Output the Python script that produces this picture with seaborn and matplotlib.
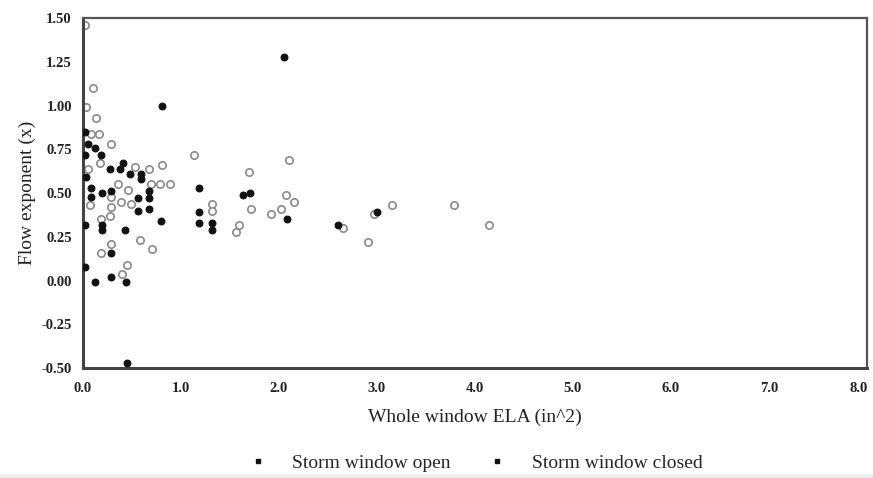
import matplotlib
matplotlib.use("Agg")
import matplotlib.pyplot as plt
import matplotlib.transforms as mtransforms
from matplotlib.lines import Line2D
from matplotlib.patches import Rectangle
import seaborn as sns
import pandas as pd

# ---- data ----
open_x = [2.05, 0.81, 0.02, 0.05, 0.12, 0.18, 0.02, 0.28, 0.38, 0.41, 0.48, 0.59, 0.59,
          0.03, 0.08, 0.08, 0.19, 0.29, 0.56, 0.67, 0.67, 0.67, 0.56, 0.02, 0.19, 0.19,
          0.43, 0.80, 1.18, 1.18, 1.18, 1.32, 1.32, 1.63, 1.70, 2.08, 0.02, 0.12, 0.29,
          0.44, 0.45, 0.29, 2.60, 3.00]
open_y = [1.28, 1.00, 0.85, 0.78, 0.76, 0.72, 0.72, 0.64, 0.64, 0.67, 0.61, 0.61, 0.58,
          0.59, 0.53, 0.48, 0.50, 0.51, 0.47, 0.51, 0.47, 0.41, 0.40, 0.32, 0.32, 0.29,
          0.29, 0.34, 0.53, 0.39, 0.33, 0.33, 0.29, 0.49, 0.50, 0.35, 0.08, -0.01, 0.02,
          -0.01, -0.47, 0.16, 0.32, 0.39]

closed_x = [0.02, 0.10, 0.03, 0.13, 0.08, 0.16, 0.29, 0.05, 0.17, 0.53, 0.67, 0.81,
            0.36, 0.46, 0.69, 0.79, 0.89, 0.07, 0.29, 0.39, 0.49, 0.29, 0.18, 0.28,
            0.58, 0.70, 0.29, 0.18, 0.40, 0.45, 1.13, 2.10, 2.07, 2.15, 1.92, 2.02,
            1.69, 1.71, 1.59, 1.56, 1.32, 1.32, 2.65, 2.91, 2.97, 3.15, 3.79, 4.14]
closed_y = [1.46, 1.10, 0.99, 0.93, 0.84, 0.84, 0.78, 0.64, 0.67, 0.65, 0.64, 0.66,
            0.55, 0.52, 0.55, 0.55, 0.55, 0.43, 0.48, 0.45, 0.44, 0.42, 0.35, 0.37,
            0.23, 0.18, 0.21, 0.16, 0.04, 0.09, 0.72, 0.69, 0.49, 0.45, 0.38, 0.41,
            0.62, 0.41, 0.32, 0.28, 0.44, 0.40, 0.30, 0.22, 0.38, 0.43, 0.43, 0.32]

series_labels = ["Storm window open", "Storm window closed"]
x_ticks = [0.0, 1.0, 2.0, 3.0, 4.0, 5.0, 6.0, 7.0, 8.0]
y_ticks = [-0.50, -0.25, 0.00, 0.25, 0.50, 0.75, 1.00, 1.25, 1.50]
x_label = "Whole window ELA (in^2)"
y_label = "Flow exponent (x)"

df_open = pd.DataFrame({"ela": open_x, "flow": open_y})
df_closed = pd.DataFrame({"ela": closed_x, "flow": closed_y})

sns.set_theme(style="white")
plt.rcParams["font.family"] = ["Liberation Serif", "DejaVu Serif"]

fig = plt.figure(figsize=(8.73, 4.78), dpi=100)
ax = fig.add_axes([0.095, 0.230, 0.898, 0.732])

sns.scatterplot(data=df_closed, x="ela", y="flow", ax=ax, marker="o", s=28,
                facecolor="white", edgecolor="#8a8a8a", linewidth=1.2, zorder=2)
sns.scatterplot(data=df_open, x="ela", y="flow", ax=ax, marker="o", s=24,
                color="#111111", edgecolor="#111111", linewidth=0.8, zorder=3)

ax.set_xlim(0, 8)
ax.set_ylim(-0.5, 1.5)
ax.set_xticks(x_ticks)
ax.set_xticklabels([f"{v:.1f}" for v in x_ticks])
ax.set_yticks(y_ticks)
ax.set_yticklabels([f"{v:.2f}" for v in y_ticks])
ax.tick_params(axis="y", length=0, labelsize=10.5, colors="#222222", pad=8)
ax.tick_params(axis="x", length=0, labelsize=10.5, colors="#222222", pad=10)
for lab in ax.get_xticklabels() + ax.get_yticklabels():
    lab.set_fontweight("bold")
# nudge the last x tick label slightly inward so it stays inside the figure
last = ax.get_xticklabels()[-1]
last.set_transform(last.get_transform() +
                   mtransforms.ScaledTranslation(-6 / 72, 0, fig.dpi_scale_trans))

ax.set_xlabel(x_label, fontsize=14, color="#222222", labelpad=10)
ax.set_ylabel(y_label, fontsize=14, color="#222222", labelpad=4)

for side in ["left", "bottom"]:
    ax.spines[side].set_linewidth(2.2)
    ax.spines[side].set_color("#444444")
for side in ["top", "right"]:
    ax.spines[side].set_linewidth(1.6)
    ax.spines[side].set_color("#555555")

handles = [Line2D([0], [0], marker="s", linestyle="none", color="#111111", markersize=3.5),
           Line2D([0], [0], marker="s", linestyle="none", color="#111111", markersize=3.5)]
fig.legend(handles, series_labels, loc="center", bbox_to_anchor=(0.539, 0.032),
           ncol=2, frameon=False, fontsize=14, handletextpad=0.75, columnspacing=1.4)

fig.patches.append(Rectangle((0, 0), 1, 4 / 478, transform=fig.transFigure,
                             facecolor="#eeeeee", edgecolor="none", zorder=0))

fig.savefig("out.png", dpi=100)
